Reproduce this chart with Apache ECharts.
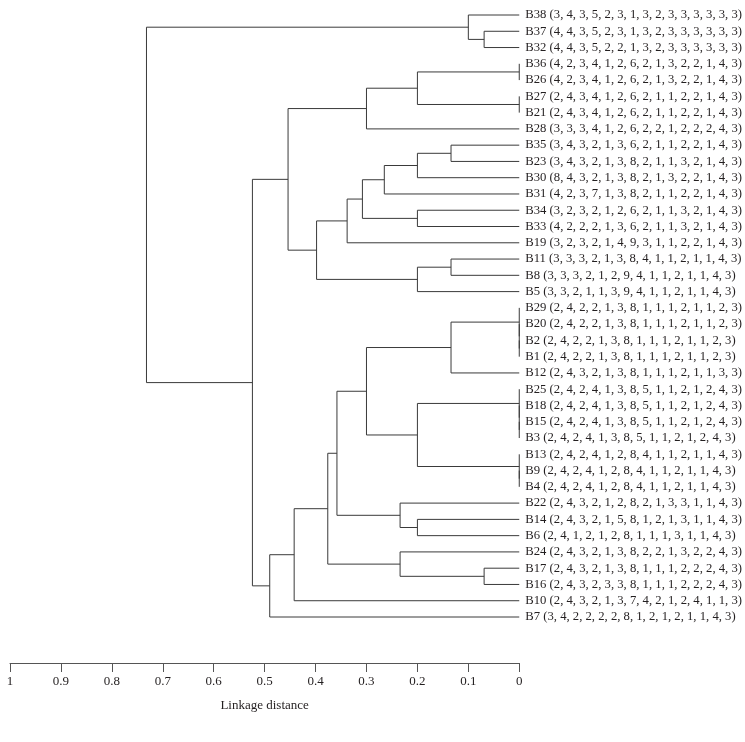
<!DOCTYPE html>
<html>
<head>
<meta charset="utf-8">
<script src="https://cdn.jsdelivr.net/npm/echarts@6/dist/echarts.min.js"></script>
<style>
html,body{margin:0;padding:0;background:#fff;}
#chart{width:745px;height:742px;}
</style>
</head>
<body>
<div id="chart"></div>
<script>
// Leaves in display order (top to bottom)
const leafNames = ['B38','B37','B32','B36','B26','B27','B21','B28','B35','B23','B30','B31','B34','B33','B19','B11','B8','B5','B29','B20','B2','B1','B12','B25','B18','B15','B3','B13','B9','B4','B22','B14','B6','B24','B17','B16','B10','B7'];
const leafProfiles = [
 '(3, 4, 3, 5, 2, 3, 1, 3, 2, 3, 3, 3, 3, 3, 3)',
 '(4, 4, 3, 5, 2, 3, 1, 3, 2, 3, 3, 3, 3, 3, 3)',
 '(4, 4, 3, 5, 2, 2, 1, 3, 2, 3, 3, 3, 3, 3, 3)',
 '(4, 2, 3, 4, 1, 2, 6, 2, 1, 3, 2, 2, 1, 4, 3)',
 '(4, 2, 3, 4, 1, 2, 6, 2, 1, 3, 2, 2, 1, 4, 3)',
 '(2, 4, 3, 4, 1, 2, 6, 2, 1, 1, 2, 2, 1, 4, 3)',
 '(2, 4, 3, 4, 1, 2, 6, 2, 1, 1, 2, 2, 1, 4, 3)',
 '(3, 3, 3, 4, 1, 2, 6, 2, 2, 1, 2, 2, 2, 4, 3)',
 '(3, 4, 3, 2, 1, 3, 6, 2, 1, 1, 2, 2, 1, 4, 3)',
 '(3, 4, 3, 2, 1, 3, 8, 2, 1, 1, 3, 2, 1, 4, 3)',
 '(8, 4, 3, 2, 1, 3, 8, 2, 1, 3, 2, 2, 1, 4, 3)',
 '(4, 2, 3, 7, 1, 3, 8, 2, 1, 1, 2, 2, 1, 4, 3)',
 '(3, 2, 3, 2, 1, 2, 6, 2, 1, 1, 3, 2, 1, 4, 3)',
 '(4, 2, 2, 2, 1, 3, 6, 2, 1, 1, 3, 2, 1, 4, 3)',
 '(3, 2, 3, 2, 1, 4, 9, 3, 1, 1, 2, 2, 1, 4, 3)',
 '(3, 3, 3, 2, 1, 3, 8, 4, 1, 1, 2, 1, 1, 4, 3)',
 '(3, 3, 3, 2, 1, 2, 9, 4, 1, 1, 2, 1, 1, 4, 3)',
 '(3, 3, 2, 1, 1, 3, 9, 4, 1, 1, 2, 1, 1, 4, 3)',
 '(2, 4, 2, 2, 1, 3, 8, 1, 1, 1, 2, 1, 1, 2, 3)',
 '(2, 4, 2, 2, 1, 3, 8, 1, 1, 1, 2, 1, 1, 2, 3)',
 '(2, 4, 2, 2, 1, 3, 8, 1, 1, 1, 2, 1, 1, 2, 3)',
 '(2, 4, 2, 2, 1, 3, 8, 1, 1, 1, 2, 1, 1, 2, 3)',
 '(2, 4, 3, 2, 1, 3, 8, 1, 1, 1, 2, 1, 1, 3, 3)',
 '(2, 4, 2, 4, 1, 3, 8, 5, 1, 1, 2, 1, 2, 4, 3)',
 '(2, 4, 2, 4, 1, 3, 8, 5, 1, 1, 2, 1, 2, 4, 3)',
 '(2, 4, 2, 4, 1, 3, 8, 5, 1, 1, 2, 1, 2, 4, 3)',
 '(2, 4, 2, 4, 1, 3, 8, 5, 1, 1, 2, 1, 2, 4, 3)',
 '(2, 4, 2, 4, 1, 2, 8, 4, 1, 1, 2, 1, 1, 4, 3)',
 '(2, 4, 2, 4, 1, 2, 8, 4, 1, 1, 2, 1, 1, 4, 3)',
 '(2, 4, 2, 4, 1, 2, 8, 4, 1, 1, 2, 1, 1, 4, 3)',
 '(2, 4, 3, 2, 1, 2, 8, 2, 1, 3, 3, 1, 1, 4, 3)',
 '(2, 4, 3, 2, 1, 5, 8, 1, 2, 1, 3, 1, 1, 4, 3)',
 '(2, 4, 1, 2, 1, 2, 8, 1, 1, 1, 3, 1, 1, 4, 3)',
 '(2, 4, 3, 2, 1, 3, 8, 2, 2, 1, 3, 2, 2, 4, 3)',
 '(2, 4, 3, 2, 1, 3, 8, 1, 1, 1, 2, 2, 2, 4, 3)',
 '(2, 4, 3, 2, 3, 3, 8, 1, 1, 1, 2, 2, 2, 4, 3)',
 '(2, 4, 3, 2, 1, 3, 7, 4, 2, 1, 2, 4, 1, 1, 3)',
 '(3, 4, 2, 2, 2, 2, 8, 1, 2, 1, 2, 1, 1, 4, 3)'
];
// Linkage table: merge i creates node 'M'+(i+1)
const linkA = ['B37','B38','B36','B27','M3','M5','B35','M7','M8','B34','M9','M11','B11','M13','M12','M6','B2','B20','B29','M19','B15','B18','B25','B9','B13','M23','M20','B14','B22','M27','B17','B24','M30','M33','M34','M16','M2'];
const linkB = ['B32','M1','B26','B21','M4','B28','B23','B30','B31','B33','M10','B19','B8','B5','M14','M15','B1','M17','M18','B12','B3','M21','M22','B4','M24','M25','M26','B6','M28','M29','B16','M31','M32','B10','B7','M35','M36'];
const linkHeight = [0.069,0.1,0,0,0.2,0.3,0.134,0.2,0.265,0.2,0.308,0.338,0.134,0.2,0.398,0.454,0,0,0,0.134,0,0,0,0,0,0.2,0.3,0.2,0.234,0.358,0.069,0.234,0.376,0.442,0.49,0.524,0.732];

const pos = {};
leafNames.forEach((n,i)=>{pos[n]={y:i,h:0};});
const segs = [];
linkA.forEach((a,i)=>{
  const A = pos[a], B = pos[linkB[i]], h = linkHeight[i];
  pos['M'+(i+1)] = {y:(A.y+B.y)/2, h:h};
  segs.push([h, A.y, B.y, A.h, B.h]);
});

const FONT = '"Liberation Serif","DejaVu Serif",serif';
const chart = echarts.init(document.getElementById('chart'), null, {renderer:'canvas'});
chart.setOption({
  animation:false,
  backgroundColor:'#fff',
  grid:{left:10, right:225, top:15, bottom:125, containLabel:false},
  xAxis:{
    type:'value', min:0, max:1, interval:0.1, inverse:true, position:'bottom', offset:46,
    axisLine:{show:true, onZero:false, lineStyle:{color:'#555', width:1}},
    axisTick:{show:true, inside:false, length:9, lineStyle:{color:'#555'}},
    splitLine:{show:false},
    axisLabel:{margin:12, fontFamily:FONT, fontSize:13, color:'#231f20',
      formatter:v=>String(+v.toFixed(1))},
    name:'Linkage distance', nameLocation:'middle', nameGap:36,
    nameTextStyle:{fontFamily:FONT, fontSize:13, color:'#231f20'}
  },
  yAxis:{
    type:'value', min:0, max:leafNames.length-1, interval:1, inverse:true, position:'right',
    axisLine:{show:false}, axisTick:{show:false}, splitLine:{show:false},
    axisLabel:{margin:6, align:'left', fontFamily:FONT, fontSize:12.7, color:'#231f20',
      formatter:v=>leafNames[v]+' '+leafProfiles[v]}
  },
  series:[{
    type:'custom',
    clip:false,
    data:segs,
    encode:{x:[0,3], y:[1,2]},
    renderItem:function(params, api){
      const h=api.value(0), y1=api.value(1), y2=api.value(2), h1=api.value(3), h2=api.value(4);
      const pts=[api.coord([h1,y1]), api.coord([h,y1]), api.coord([h,y2]), api.coord([h2,y2])];
      return {type:'polyline', shape:{points:pts}, style:{stroke:'#3a3a3a', lineWidth:1, fill:null}};
    }
  }]
});
</script>
</body>
</html>
